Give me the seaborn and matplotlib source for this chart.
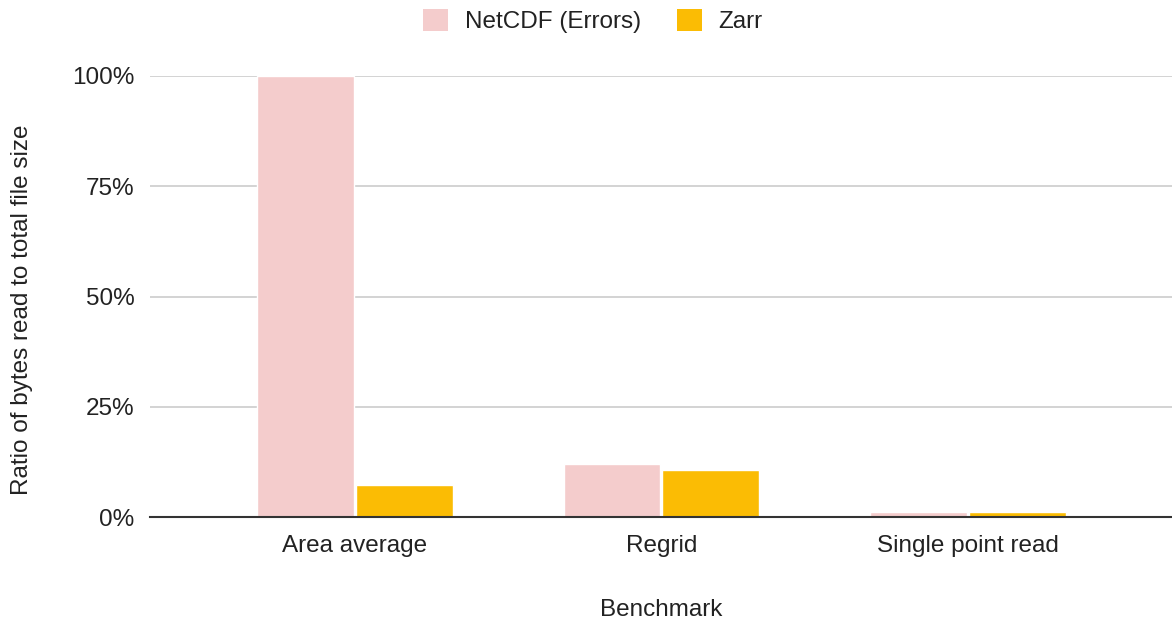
import matplotlib
matplotlib.use("Agg")
import matplotlib.pyplot as plt
import seaborn as sns
import pandas as pd
from matplotlib.ticker import PercentFormatter
from matplotlib.patches import Patch

categories = ["Area average", "Regrid", "Single point read"]
netcdf_values = [1.00, 0.120, 0.011]
zarr_values = [0.073, 0.107, 0.011]
series_names = ["NetCDF (Errors)", "Zarr"]
yticks = [0, 0.25, 0.5, 0.75, 1.0]

colors = {"NetCDF (Errors)": "#f4cccc", "Zarr": "#fbbc04"}

df = pd.DataFrame({
    "Benchmark": categories * 2,
    "Series": [series_names[0]] * 3 + [series_names[1]] * 3,
    "Value": netcdf_values + zarr_values,
})

sns.set_theme(style="white")
plt.rcParams["font.family"] = ["Liberation Sans", "DejaVu Sans"]
FS = 17.5
TXT = "#222222"

fig = plt.figure(figsize=(11.72, 6.24), dpi=100)
ax = fig.add_axes([150 / 1172, 1 - 517 / 624, 1 - 150 / 1172, (517 - 76) / 624])

sns.barplot(data=df, x="Benchmark", y="Value", hue="Series", palette=colors,
            width=0.645, gap=0.02, ax=ax, legend=False, saturation=1)

ax.set_xlim(-0.669, 2.666)
ax.set_ylim(0, 1.0)
ax.set_yticks(yticks)
ax.yaxis.set_major_formatter(PercentFormatter(1.0, decimals=0))
ax.grid(axis="y", color="#cccccc", linewidth=1.2)
ax.set_axisbelow(True)
for s in ["top", "right", "left"]:
    ax.spines[s].set_visible(False)
ax.spines["bottom"].set_color("#333333")
ax.spines["bottom"].set_linewidth(1.5)
ax.spines["bottom"].set_zorder(5)
ax.tick_params(axis="both", length=0, labelsize=FS, colors=TXT)
ax.tick_params(axis="x", pad=13)
ax.tick_params(axis="y", pad=11)
ax.set_xlabel("Benchmark", fontsize=FS, color=TXT, va="center")
ax.xaxis.set_label_coords(0.5, -(610 - 517) / 441)
ax.set_ylabel("Ratio of bytes read to total file size", fontsize=FS, color=TXT, va="center")
ax.yaxis.set_label_coords(-(150 - 22) / 1022, (517 - 310) / 441)

handles = [Patch(facecolor=colors[n], edgecolor="none") for n in series_names]
fig.legend(handles, series_names, loc="center", bbox_to_anchor=(593 / 1172, 1 - 21 / 624),
           ncol=2, frameon=False, fontsize=FS, handlelength=1.0, handleheight=1.0,
           columnspacing=1.5, handletextpad=0.7, labelcolor=TXT)

fig.savefig("out.png", dpi=100)
